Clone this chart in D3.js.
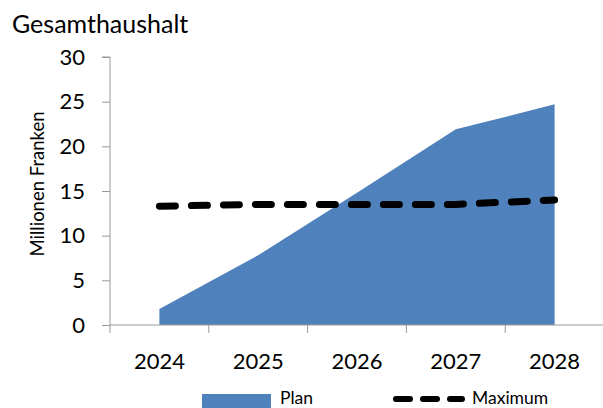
<!DOCTYPE html>
<html>
<head>
<meta charset="utf-8">
<script src="https://cdn.jsdelivr.net/npm/d3@7"></script>
<style>
  html, body { margin: 0; padding: 0; background: #fff; }
  svg { display: block; font-family: Lato, "Open Sans", sans-serif; }
</style>
</head>
<body>
<svg id="chart" width="603" height="408"></svg>
<script>
// Budget figures in millions of francs
const years = ["2024", "2025", "2026", "2027", "2028"];
const plan = [1.8, 7.8, 14.8, 21.9, 24.7];
const maximum = [13.3, 13.5, 13.5, 13.5, 14.0];
const yTicks = [0, 5, 10, 15, 20, 25, 30];

const svg = d3.select("#chart");
const plotLeft = 110, plotRight = 604, plotTop = 57, plotBottom = 325;

const x = d3.scaleBand().domain(years).range([plotLeft, plotRight]).padding(0);
const y = d3.scaleLinear().domain([0, 30]).range([plotBottom, plotTop]);
const cx = d => x(d) + x.bandwidth() / 2;

const axisColor = "#9a9a9a";

// Plan area
const area = d3.area()
  .x((d, i) => cx(years[i]))
  .y0(y(0))
  .y1(d => y(d));
svg.append("path")
  .datum(plan)
  .attr("d", area)
  .attr("fill", "#4f81bd");

// Y axis
const yAxis = svg.append("g")
  .attr("transform", `translate(${plotLeft},0)`)
  .call(d3.axisLeft(y).tickValues(yTicks).tickSize(8).tickPadding(17));
yAxis.select(".domain").attr("stroke", axisColor).attr("d", `M-8,${plotTop}H0V${plotBottom}`);
yAxis.selectAll(".tick line").attr("stroke", axisColor);
yAxis.selectAll(".tick text")
  .attr("fill", "#000")
  .style("font-size", "22px")
  .style("font-family", "Lato, sans-serif");

// X axis with ticks at category boundaries
const xAxisG = svg.append("g").attr("transform", `translate(0,${plotBottom})`);
xAxisG.append("line")
  .attr("x1", plotLeft).attr("x2", 603)
  .attr("y1", 0).attr("y2", 0)
  .attr("stroke", axisColor);
const bounds = years.map(d => x(d)).concat([plotRight]);
xAxisG.selectAll("line.tk")
  .data(bounds)
  .join("line")
  .attr("class", "tk")
  .attr("x1", d => d).attr("x2", d => d)
  .attr("y1", 0).attr("y2", 8)
  .attr("stroke", axisColor);
xAxisG.selectAll("text")
  .data(years)
  .join("text")
  .attr("x", d => cx(d))
  .attr("y", 44)
  .attr("text-anchor", "middle")
  .style("font-size", "22px")
  .text(d => d);

// Maximum dashed line
const line = d3.line()
  .x((d, i) => cx(years[i]))
  .y(d => y(d));
svg.append("path")
  .datum(maximum)
  .attr("d", line)
  .attr("fill", "none")
  .attr("stroke", "#000")
  .attr("stroke-width", 7)
  .attr("stroke-linecap", "round")
  .attr("stroke-dasharray", "16,16");

// Title
svg.append("text")
  .attr("x", 12).attr("y", 33)
  .style("font-size", "25px")
  .text("Gesamthaushalt");

// Y axis title
svg.append("text")
  .attr("transform", `translate(44,184) rotate(-90)`)
  .attr("text-anchor", "middle")
  .style("font-size", "18.5px")
  .text("Millionen Franken");

// Legend
const lg = svg.append("g");
lg.append("rect")
  .attr("x", 202).attr("y", 394)
  .attr("width", 69).attr("height", 16)
  .attr("fill", "#4f81bd");
lg.append("text")
  .attr("x", 280).attr("y", 404)
  .style("font-size", "17.5px")
  .text("Plan");
lg.append("line")
  .attr("x1", 396).attr("x2", 462)
  .attr("y1", 399).attr("y2", 399)
  .attr("stroke", "#000")
  .attr("stroke-width", 6)
  .attr("stroke-linecap", "round")
  .attr("stroke-dasharray", "14,13");
lg.append("text")
  .attr("x", 472).attr("y", 404)
  .style("font-size", "17.5px")
  .text("Maximum");
</script>
</body>
</html>
